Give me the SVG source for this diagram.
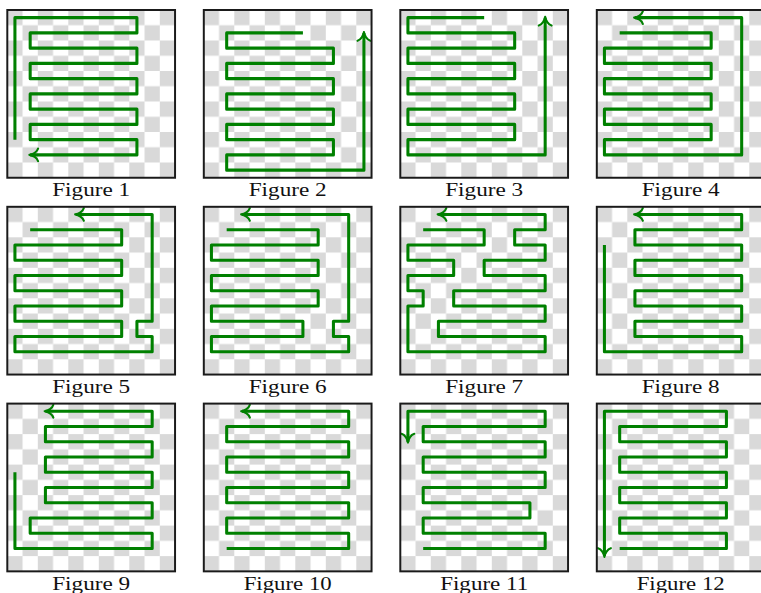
<svg xmlns="http://www.w3.org/2000/svg" width="761" height="593" viewBox="0 0 761 593">
  <style>
    .board { fill: url(#chk); }
    .frame { fill: none; stroke: #1a1a1a; stroke-width: 0.13; }
    .route { fill: none; stroke: #008000; stroke-width: 0.2; stroke-linejoin: round; stroke-linecap: butt; }
    .arrow { marker-end: url(#tip); }
    .cap { font-family: "Liberation Serif", "DejaVu Serif", serif; font-size: 19.5px; fill: #111; text-anchor: middle; }
  </style>
  <defs>
    <!-- 11x11 checkerboard, one unit per cell (used inside scaled panel groups) -->
    <pattern id="chk" width="2" height="2" patternUnits="userSpaceOnUse">
      <rect width="2" height="2" fill="#ffffff"/>
      <rect width="1" height="1" fill="#d9d9d9"/>
      <rect x="1" y="1" width="1" height="1" fill="#d9d9d9"/>
    </pattern>
    <!-- curved "to" style arrow tip -->
    <marker id="tip" markerUnits="strokeWidth" orient="auto" overflow="visible" markerWidth="1" markerHeight="1" refX="0" refY="0">
      <path d="M-2.6,-2.1 C-2.3,-1 -0.9,-0.15 0.25,0 M-2.6,2.1 C-2.3,1 -0.9,0.15 0.25,0" fill="none" stroke="#008000" stroke-width="0.7" stroke-linecap="round"/>
    </marker>
  </defs>

  <!-- row 1 -->
  <g id="fig1">
    <g transform="translate(7.3 10) scale(15.25)">
      <rect class="board" width="11" height="11"/>
      <path class="route arrow" d="M0.5 8.5 V0.5 H8.5 V1.5 H1.5 V2.5 H8.5 V3.5 H1.5 V4.5 H8.5 V5.5 H1.5 V6.5 H8.5 V7.5 H1.5 V8.5 H8.5 V9.5 H1.5"/>
      <rect class="frame" width="11" height="11"/>
    </g>
    <text class="cap" x="91.2" y="196.3" textLength="78" lengthAdjust="spacingAndGlyphs">Figure 1</text>
  </g>

  <g id="fig2">
    <g transform="translate(203.8 10) scale(15.25)">
      <rect class="board" width="11" height="11"/>
      <path class="route arrow" d="M6.5 1.5 H1.5 V2.5 H8.5 V3.5 H1.5 V4.5 H8.5 V5.5 H1.5 V6.5 H8.5 V7.5 H1.5 V8.5 H8.5 V9.5 H1.5 V10.5 H10.5 V1.5"/>
      <rect class="frame" width="11" height="11"/>
    </g>
    <text class="cap" x="287.7" y="196.3" textLength="78" lengthAdjust="spacingAndGlyphs">Figure 2</text>
  </g>

  <g id="fig3">
    <g transform="translate(400.3 10) scale(15.25)">
      <rect class="board" width="11" height="11"/>
      <path class="route arrow" d="M5.5 0.5 H0.5 V1.5 H7.5 V2.5 H0.5 V3.5 H7.5 V4.5 H0.5 V5.5 H7.5 V6.5 H0.5 V7.5 H7.5 V8.5 H0.5 V9.5 H9.5 V0.5"/>
      <rect class="frame" width="11" height="11"/>
    </g>
    <text class="cap" x="484.2" y="196.3" textLength="78" lengthAdjust="spacingAndGlyphs">Figure 3</text>
  </g>

  <g id="fig4">
    <g transform="translate(596.8 10) scale(15.25)">
      <rect class="board" width="11" height="11"/>
      <path class="route arrow" d="M1.5 1.5 H7.5 V2.5 H0.5 V3.5 H7.5 V4.5 H0.5 V5.5 H7.5 V6.5 H0.5 V7.5 H7.5 V8.5 H0.5 V9.5 H9.5 V0.5 H2.5"/>
      <rect class="frame" width="11" height="11"/>
    </g>
    <text class="cap" x="680.7" y="196.3" textLength="78" lengthAdjust="spacingAndGlyphs">Figure 4</text>
  </g>

  <!-- row 2 -->
  <g id="fig5">
    <g transform="translate(7.3 206.8) scale(15.25)">
      <rect class="board" width="11" height="11"/>
      <path class="route arrow" d="M1.5 1.5 H7.5 V2.5 H0.5 V3.5 H7.5 V4.5 H0.5 V5.5 H7.5 V6.5 H0.5 V7.5 H7.5 V8.5 H0.5 V9.5 H9.5 V8.5 H8.5 V7.5 H9.5 V0.5 H4.5"/>
      <rect class="frame" width="11" height="11"/>
    </g>
    <text class="cap" x="91.2" y="393.1" textLength="78" lengthAdjust="spacingAndGlyphs">Figure 5</text>
  </g>

  <g id="fig6">
    <g transform="translate(203.8 206.8) scale(15.25)">
      <rect class="board" width="11" height="11"/>
      <path class="route arrow" d="M1.5 1.5 H7.5 V2.5 H0.5 V3.5 H7.5 V4.5 H0.5 V5.5 H7.5 V6.5 H0.5 V7.5 H6.5 V8.5 H0.5 V9.5 H9.5 V8.5 H8.5 V7.5 H9.5 V0.5 H2.5"/>
      <rect class="frame" width="11" height="11"/>
    </g>
    <text class="cap" x="287.7" y="393.1" textLength="78" lengthAdjust="spacingAndGlyphs">Figure 6</text>
  </g>

  <g id="fig7">
    <g transform="translate(400.3 206.8) scale(15.25)">
      <rect class="board" width="11" height="11"/>
      <path class="route arrow" d="M1.5 1.5 H5.5 V2.5 H0.5 V3.5 H3.5 V4.5 H0.5 V5.5 H1.5 V6.5 H0.5 V9.5 H9.5 V8.5 H2.5 V7.5 H9.5 V6.5 H3.5 V5.5 H9.5 V4.5 H5.5 V3.5 H9.5 V2.5 H7.5 V1.5 H9.5 V0.5 H2.5"/>
      <rect class="frame" width="11" height="11"/>
    </g>
    <text class="cap" x="484.2" y="393.1" textLength="78" lengthAdjust="spacingAndGlyphs">Figure 7</text>
  </g>

  <g id="fig8">
    <g transform="translate(596.8 206.8) scale(15.25)">
      <rect class="board" width="11" height="11"/>
      <path class="route arrow" d="M0.5 2.5 V9.5 H9.5 V8.5 H2.5 V7.5 H9.5 V6.5 H2.5 V5.5 H9.5 V4.5 H2.5 V3.5 H9.5 V2.5 H2.5 V1.5 H9.5 V0.5 H2.5"/>
      <rect class="frame" width="11" height="11"/>
    </g>
    <text class="cap" x="680.7" y="393.1" textLength="78" lengthAdjust="spacingAndGlyphs">Figure 8</text>
  </g>

  <!-- row 3 -->
  <g id="fig9">
    <g transform="translate(7.3 403.6) scale(15.25)">
      <rect class="board" width="11" height="11"/>
      <path class="route arrow" d="M0.5 4.5 V9.5 H9.5 V8.5 H1.5 V7.5 H9.5 V6.5 H2.5 V5.5 H9.5 V4.5 H2.5 V3.5 H9.5 V2.5 H2.5 V1.5 H9.5 V0.5 H2.5"/>
      <rect class="frame" width="11" height="11"/>
    </g>
    <text class="cap" x="91.2" y="589.9" textLength="78" lengthAdjust="spacingAndGlyphs">Figure 9</text>
  </g>

  <g id="fig10">
    <g transform="translate(203.8 403.6) scale(15.25)">
      <rect class="board" width="11" height="11"/>
      <path class="route arrow" d="M1.5 9.5 H9.5 V8.5 H1.5 V7.5 H9.5 V6.5 H1.5 V5.5 H9.5 V4.5 H1.5 V3.5 H9.5 V2.5 H1.5 V1.5 H9.5 V0.5 H2.5"/>
      <rect class="frame" width="11" height="11"/>
    </g>
    <text class="cap" x="287.7" y="589.9" textLength="88" lengthAdjust="spacingAndGlyphs">Figure 10</text>
  </g>

  <g id="fig11">
    <g transform="translate(400.3 403.6) scale(15.25)">
      <rect class="board" width="11" height="11"/>
      <path class="route arrow" d="M1.5 9.5 H9.5 V8.5 H1.5 V7.5 H8.5 V6.5 H1.5 V5.5 H9.5 V4.5 H1.5 V3.5 H9.5 V2.5 H1.5 V1.5 H9.5 V0.5 H0.5 V2.5"/>
      <rect class="frame" width="11" height="11"/>
    </g>
    <text class="cap" x="484.2" y="589.9" textLength="88" lengthAdjust="spacingAndGlyphs">Figure 11</text>
  </g>

  <g id="fig12">
    <g transform="translate(596.8 403.6) scale(15.25)">
      <rect class="board" width="11" height="11"/>
      <path class="route arrow" d="M1.5 9.5 H8.5 V8.5 H1.5 V7.5 H8.5 V6.5 H1.5 V5.5 H8.5 V4.5 H1.5 V3.5 H8.5 V2.5 H1.5 V1.5 H8.5 V0.5 H0.5 V10"/>
      <rect class="frame" width="11" height="11"/>
    </g>
    <text class="cap" x="680.7" y="589.9" textLength="88" lengthAdjust="spacingAndGlyphs">Figure 12</text>
  </g>
</svg>
